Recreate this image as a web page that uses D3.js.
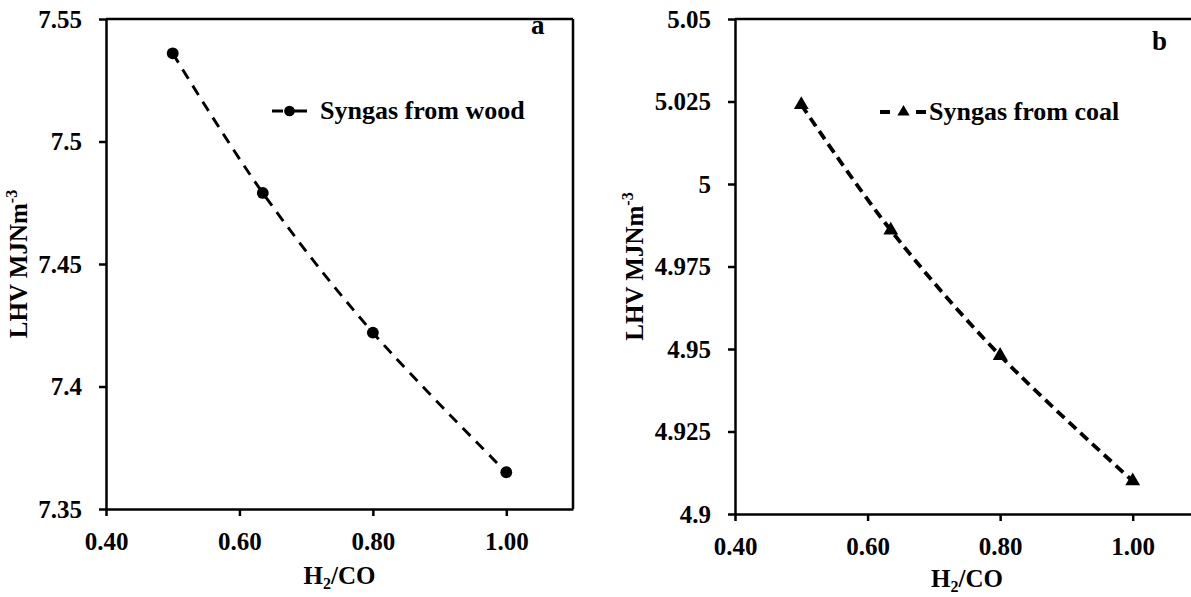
<!DOCTYPE html>
<html>
<head>
<meta charset="utf-8">
<script src="https://cdn.jsdelivr.net/npm/d3@7/dist/d3.min.js"></script>
<style>
  html, body { margin: 0; padding: 0; background: #fff; }
  svg { display: block; }
  text { font-family: "Liberation Serif", "Times New Roman", Times, serif; font-weight: bold; fill: #000; }
</style>
</head>
<body>
<svg id="chart" width="1191" height="597"></svg>
<script>
// H2/CO ratios shared by both panels
const ratios = [0.50, 0.635, 0.80, 1.00];
// Lower heating value of the syngas, MJ/Nm3
const lhvWood = [7.536, 7.479, 7.422, 7.365];
const lhvCoal = [5.024, 4.986, 4.948, 4.910];

const xTicks = [0.40, 0.60, 0.80, 1.00];
const yTicksWood = [7.35, 7.40, 7.45, 7.50, 7.55];
const yTicksCoal = [4.900, 4.925, 4.950, 4.975, 5.000, 5.025, 5.050];

const xDomain = [0.40, 1.10];
const yDomainWood = [7.35, 7.55];
const yDomainCoal = [4.90, 5.05];

const svg = d3.select("#chart");
const FONT = "'Liberation Serif', 'Times New Roman', Times, serif";

function trimNum(v) {
  // 7.50 -> 7.5, 5.000 -> 5, 4.925 stays
  return String(+v.toFixed(3));
}

function panel(opts) {
  const g = svg.append("g");
  const x = d3.scaleLinear().domain(xDomain).range([opts.left, opts.right]);
  const y = d3.scaleLinear().domain(opts.yDomain).range([opts.bottom, opts.top]);

  // frame: top and right edges
  g.append("line").attr("x1", opts.left).attr("x2", opts.right)
    .attr("y1", opts.top).attr("y2", opts.top)
    .attr("stroke", "#000").attr("stroke-width", 2.5);
  g.append("line").attr("x1", opts.right).attr("x2", opts.right)
    .attr("y1", opts.top).attr("y2", opts.bottom)
    .attr("stroke", "#000").attr("stroke-width", 2.5);

  const xAxis = d3.axisBottom(x).tickValues(xTicks)
    .tickFormat(d3.format(".2f")).tickSize(7).tickPadding(16).tickSizeOuter(0);
  const yAxis = d3.axisLeft(y).tickValues(opts.yTicks)
    .tickFormat(trimNum).tickSize(7).tickPadding(17).tickSizeOuter(0);

  const gx = g.append("g").attr("transform", `translate(0,${opts.bottom})`).call(xAxis);
  const gy = g.append("g").attr("transform", `translate(${opts.left},0)`).call(yAxis);
  [gx, gy].forEach(a => {
    a.attr("font-family", null).attr("font-size", null);
    a.select(".domain").attr("stroke", "#000").attr("stroke-width", 2.5);
    a.selectAll(".tick line").attr("stroke", "#000").attr("stroke-width", 2.5);
    a.selectAll(".tick text").style("font-size", "25px")
      .style("font-family", FONT)
      .style("font-weight", "bold").attr("fill", "#000");
  });

  // smoothed dashed trend through the points
  const pts = ratios.map((r, i) => [r, opts.values[i]]);
  const line = d3.line().x(d => x(d[0])).y(d => y(d[1]))
    .curve(d3.curveCatmullRom.alpha(0));
  g.append("path").datum(pts).attr("d", line)
    .attr("fill", "none").attr("stroke", "#000")
    .attr("stroke-width", opts.lineWidth).attr("stroke-dasharray", opts.dash);

  const sym = d3.symbol().type(opts.symbol).size(opts.symSize);
  g.selectAll("path.mark").data(pts).join("path").attr("class", "mark")
    .attr("d", sym)
    .attr("transform", d => `translate(${x(d[0])},${y(d[1])})`)
    .attr("fill", "#000");

  // legend
  g.append("line").attr("x1", opts.legX1).attr("x2", opts.legX2)
    .attr("y1", opts.legY).attr("y2", opts.legY)
    .attr("stroke", "#000").attr("stroke-width", opts.lineWidth)
    .attr("stroke-dasharray", opts.legDash);
  g.append("path").attr("d", d3.symbol().type(opts.symbol).size(opts.legSymSize))
    .attr("transform", `translate(${(opts.legX1 + opts.legX2) / 2},${opts.legY})`)
    .attr("fill", "#000");
  g.append("text").attr("x", opts.legTextX).attr("y", opts.legY + 8)
    .style("font-size", "26px").text(opts.name);

  // panel letter
  g.append("text").attr("x", opts.tagX).attr("y", opts.tagY)
    .style("font-size", "27px").text(opts.tag);

  // axis titles
  const xt = g.append("text")
    .attr("x", (opts.left + opts.right) / 2).attr("y", opts.xTitleY)
    .attr("text-anchor", "middle").style("font-size", "25px");
  xt.append("tspan").text("H");
  xt.append("tspan").attr("dy", 5).style("font-size", "16px").text("2");
  xt.append("tspan").attr("dy", -5).text("/CO");

  const yt = g.append("text")
    .attr("transform", `translate(${opts.titleX},${(opts.top + opts.bottom) / 2}) rotate(-90)`)
    .attr("text-anchor", "middle").style("font-size", "25px");
  yt.append("tspan").text("LHV MJNm");
  yt.append("tspan").attr("dy", -10).style("font-size", "16px").text("-3");
}

panel({
  left: 106, right: 573, top: 19, bottom: 509,
  yDomain: yDomainWood, yTicks: yTicksWood, values: lhvWood,
  symbol: d3.symbolCircle, symSize: 110, legSymSize: 90,
  lineWidth: 2.9, dash: "11,8", legDash: "11,5,20,5,11",
  legX1: 272, legX2: 307, legY: 111, legTextX: 320,
  name: "Syngas from wood", tag: "a", tagX: 531, tagY: 34, titleX: 27,
  xTitleY: 584
});

panel({
  left: 735, right: 1199, top: 19, bottom: 514,
  yDomain: yDomainCoal, yTicks: yTicksCoal, values: lhvCoal,
  symbol: d3.symbolTriangle, symSize: 95, legSymSize: 65,
  lineWidth: 3.8, dash: "10,6", legDash: "10,26,10",
  legX1: 880, legX2: 927, legY: 112, legTextX: 929,
  name: "Syngas from coal", tag: "b", tagX: 1152, tagY: 50, titleX: 643,
  xTitleY: 587
});
</script>
</body>
</html>
